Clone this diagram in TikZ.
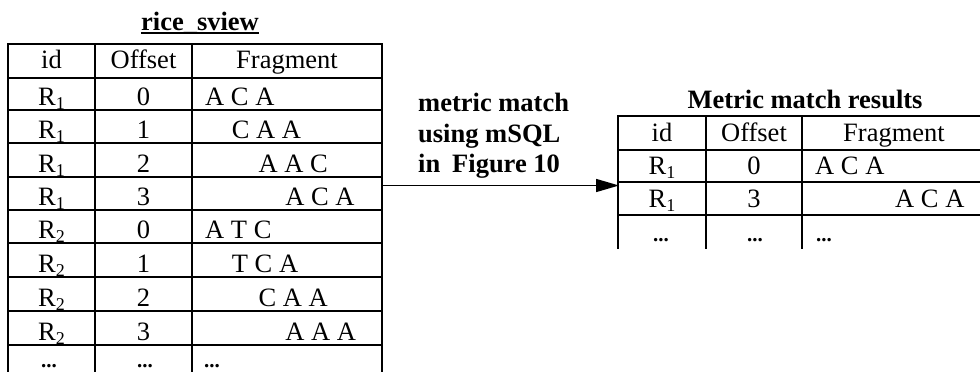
\documentclass[tikz,border=0pt]{standalone}
\usepackage{fontspec}
\setmainfont{Liberation Serif}
\usetikzlibrary{arrows.meta}
\newcommand{\rid}[1]{R\raisebox{-4.5pt}{\fontsize{18}{18}\selectfont #1}}
\begin{document}
\begin{tikzpicture}[x=1pt,y=-1pt,
  gridline/.style={line width=2pt,line cap=rect},
  cell/.style={anchor=base,inner sep=0pt,font=\fontsize{26.5}{30}\selectfont},
  frag/.style={anchor=base west,inner sep=0pt,font=\fontsize{26.5}{30}\selectfont},
  more/.style={anchor=base,inner sep=0pt,font=\fontsize{21}{22}\selectfont\bfseries},
  moref/.style={anchor=base west,inner sep=0pt,font=\fontsize{21}{22}\selectfont\bfseries},
  heading/.style={anchor=base,inner sep=0pt,font=\fontsize{26.5}{30}\selectfont\bfseries},
  note/.style={anchor=base west,inner sep=0pt,font=\fontsize{26.5}{30}\selectfont\bfseries},
  flow/.style={line width=1.5pt,-{Triangle[length=23pt,width=13pt]}}]
\useasboundingbox (0,0) rectangle (980,372);
\clip (0,0) rectangle (980,372);

% ---- rice_sview table ----
\node[heading] (ltitle) at (200,30) {rice\_sview};
\draw[line width=1.5pt] ([yshift=-3pt]ltitle.base west) -- ([yshift=-3pt]ltitle.base east);

\foreach \y in {44,78,110,143,177,210,243,277,311,345}
  \draw[gridline] (8,\y) -- (382,\y);
\foreach \x in {8,95,192,382}
  \draw[gridline] (\x,44) -- (\x,380);

\node[cell] (lh1) at (51.5,68) {id};
\node[cell] (lh2) at (143.5,68) {Offset};
\node[cell] (lh3) at (287,68) {Fragment};

\foreach \yb/\r/\o/\f [count=\i] in {
   105/1/0/A C A, 138/1/1/C A A, 172/1/2/A A C, 205/1/3/A C A,
   238/2/0/A T C, 272/2/1/T C A, 306/2/2/C A A, 340/2/3/A A A} {
  \node[cell] (lid\i) at (51.5,\yb) {\rid{\r}};
  \node[cell] (loff\i) at (143.5,\yb) {\o};
  \node[frag] (lfrag\i) at ({205+26.7*\o},\yb) {\f};
}
\node[more] (ldots1) at (49,367) {...};
\node[more] (ldots2) at (145,367) {...};
\node[moref] (ldots3) at (204,367) {...};

% ---- label of the query ----
\node[note] (q1) at (418,111) {metric match};
\node[note] (q2) at (418,142) {using mSQL};
\node[note] (q3) at (418,172) {in\hspace{0.45em}Figure 10};

% ---- result table ----
\node[heading] (rtitle) at (805,108) {Metric match results};

\foreach \y in {116,150,182,215}
  \draw[gridline] (618,\y) -- (986,\y);
\foreach \x in {618,706,802,986}
  \draw[gridline] (\x,116) -- (\x,248);

\node[cell] (rh1) at (662,141) {id};
\node[cell] (rh2) at (754,141) {Offset};
\node[cell] (rh3) at (894,141) {Fragment};

\node[cell] (rid1) at (662,174) {\rid{1}};
\node[cell] (roff1) at (754,174) {0};
\node[frag] (rfrag1) at (815,174) {A C A};
\node[cell] (rid2) at (662,207) {\rid{1}};
\node[cell] (roff2) at (754,207) {3};
\node[frag] (rfrag2) at (895,207) {A C A};

\node[more] (rdots1) at (661,241) {...};
\node[more] (rdots2) at (755,241) {...};
\node[moref] (rdots3) at (816,241) {...};

% ---- connector between the tables ----
\coordinate (from) at (382,185.5);
\coordinate (to) at (619,185.5);
\draw[flow] (from) -- (to);
\end{tikzpicture}
\end{document}
